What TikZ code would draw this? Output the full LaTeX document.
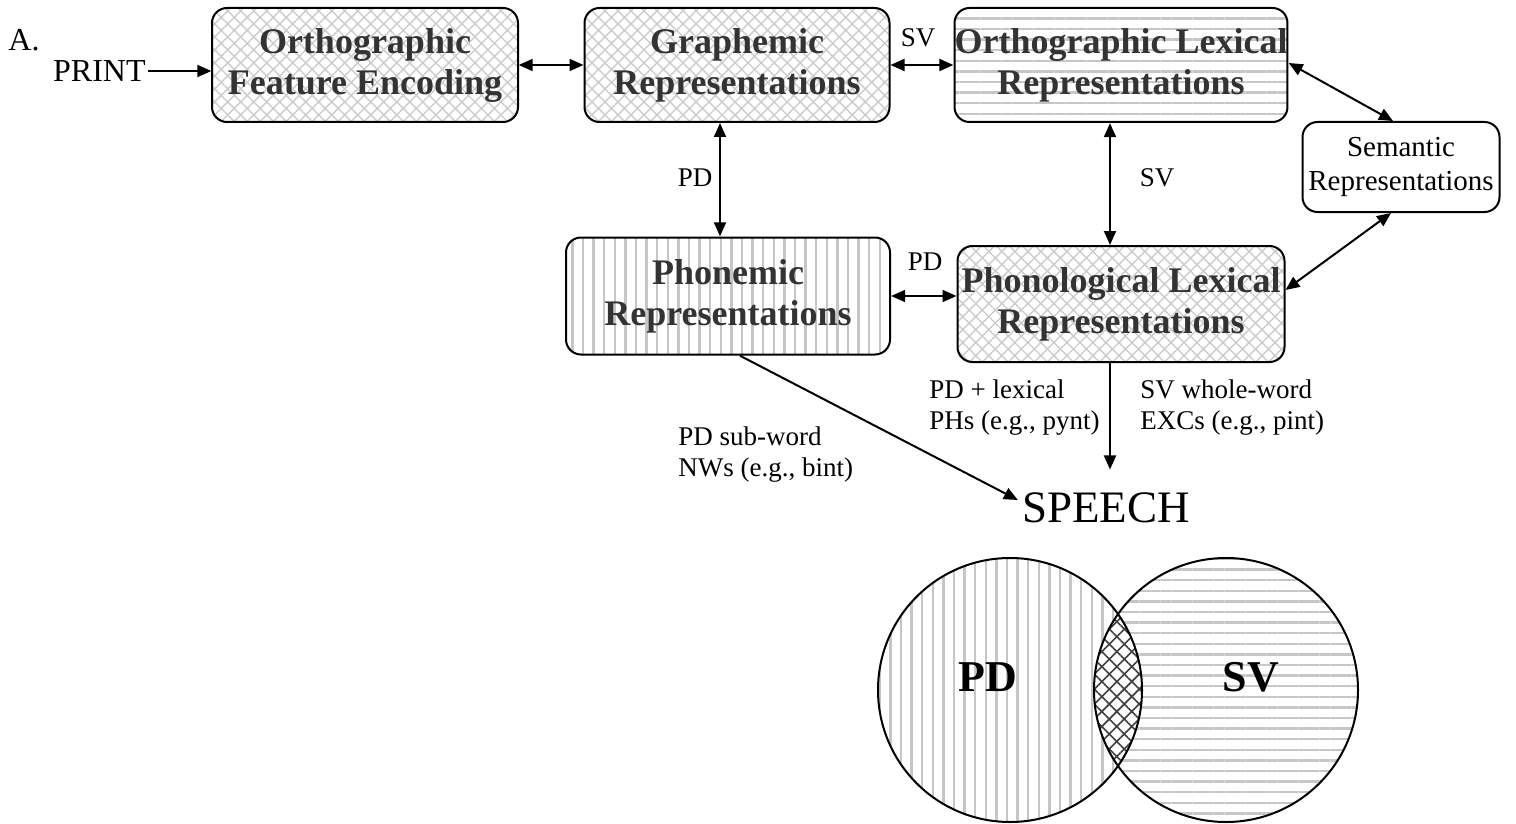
\documentclass[tikz,border=0pt]{standalone}
\usepackage{fontspec}
\setmainfont{Liberation Serif}
\usetikzlibrary{arrows.meta,patterns.meta}

\tikzset{
  box/.style={draw, line width=1pt, rounded corners=7.5pt, align=center,
    font=\fontsize{18}{20.5}\selectfont\bfseries, text=black!80, inner sep=0pt},
  crossfill/.style={pattern={Hatch[angle=45,distance=4.6pt,line width=0.7pt]}, pattern color=gray!40},
  hfill/.style={pattern={Lines[angle=0,distance=5.3pt,line width=1.2pt]}, pattern color=gray!45},
  vfill/.style={pattern={Lines[angle=90,distance=5.3pt,line width=1.2pt]}, pattern color=gray!45},
  lensfill/.style={pattern={Hatch[angle=45,distance=5.3pt,line width=0.8pt]}, pattern color=black!75},
  lbl/.style={font=\fontsize{13.5}{15.5}\selectfont, align=left, inner sep=1pt},
  link/.style={line width=1pt, -{Triangle[length=7pt,width=6pt]}},
  dlink/.style={line width=1pt, {Triangle[length=7pt,width=6pt]}-{Triangle[length=7pt,width=6pt]}},
}

\begin{document}
\begin{tikzpicture}[x=0.5pt, y=-0.5pt]
    % page frame, in pixels of the reference
    \useasboundingbox (0,0) rectangle (1516,824);

    % top row
    \node[font=\fontsize{16}{18}\selectfont] (panel) at (24,40) {A.};
    \node[font=\fontsize{16}{18}\selectfont, anchor=east, inner sep=1pt] (print) at (148,71) {PRINT};
    \node[box, crossfill, minimum width=153pt, minimum height=57pt] (ofe) at (365,65)
      {Orthographic\\Feature Encoding};
    \node[box, crossfill, minimum width=152.5pt, minimum height=57pt] (graph) at (737,65)
      {Graphemic\\Representations};
    \node[box, hfill, minimum width=163.5pt, minimum height=57pt] (olex) at (1121,65)
      {Orthographic Lexical\\Representations};
    \node[draw, line width=1pt, rounded corners=7.5pt, align=center, inner sep=0pt,
      font=\fontsize{14.5}{17}\selectfont, minimum width=98.5pt, minimum height=45pt] (sem) at (1401,167)
      {Semantic\\Representations};

    % middle row
    \node[box, vfill, minimum width=162pt, minimum height=58.5pt] (phon) at (728,296)
      {Phonemic\\Representations};
    \node[box, crossfill, minimum width=163.5pt, minimum height=58pt] (plex) at (1121,304)
      {Phonological Lexical\\Representations};

    % output
    \node[font=\fontsize{22.5}{26}\selectfont, inner sep=2pt] (speech) at (1106,508) {SPEECH};

    % route labels
    \node[lbl] (svtop) at (918,38) {SV};
    \node[lbl] (pdleft) at (695,178) {PD};
    \node[lbl] (svright) at (1157,178) {SV};
    \node[lbl] (pdmid) at (925,262) {PD};
    \node[lbl, anchor=east] (lexlbl) at (1102,408) {PD + lexical\\PHs (e.g., pynt)};
    \node[lbl, anchor=west] (wwlbl) at (1138,408) {SV whole-word\\EXCs (e.g., pint)};
    \node[lbl, anchor=west] (subwlbl) at (676,455) {PD sub-word\\NWs (e.g., bint)};

    % connectors
    \draw[link] (print.east) -- (print.east -| ofe.west);
    \draw[dlink] (ofe.east) -- (graph.west);
    \draw[dlink] (graph.east) -- (olex.west);
    \draw[dlink] ([yshift=1pt]olex.east) -- ([xshift=-4pt]sem.north);
    \draw[dlink] ([xshift=-5pt]sem.south) -- ([yshift=7pt]plex.east);
    \draw[dlink] ([xshift=-8.5pt]graph.south) -- ([xshift=-8.5pt]graph.south |- phon.north);
    \draw[dlink] ([xshift=-5.5pt]olex.south) -- ([xshift=-5.5pt]olex.south |- plex.north);
    \draw[dlink] (phon.east) -- (phon.east -| plex.west);
    \draw[link] ([xshift=6pt]phon.south) -- ([yshift=4pt]speech.west);
    \draw[link, shorten >=9.5pt] ([xshift=-5.5pt]plex.south) -- ([xshift=-5.5pt]plex.south |- speech.north);

    % Venn diagram
    \coordinate (pdc) at (1010,690);
    \coordinate (svc) at (1226,690);
    \path[vfill] (pdc) circle[radius=66pt];
    \path[hfill] (svc) circle[radius=66pt];
    \begin{scope}
      \clip (pdc) circle[radius=66pt];
      \fill[white] (svc) circle[radius=66pt];
      \path[lensfill] (svc) circle[radius=66pt];
    \end{scope}
    \draw[line width=1pt] (pdc) circle[radius=66pt];
    \draw[line width=1pt] (svc) circle[radius=66pt];
    \node[font=\fontsize{22}{26}\selectfont\bfseries] (pdset) at (988,677) {PD};
    \node[font=\fontsize{22}{26}\selectfont\bfseries] (svset) at (1251,677) {SV};
  \end{tikzpicture}
\end{document}
